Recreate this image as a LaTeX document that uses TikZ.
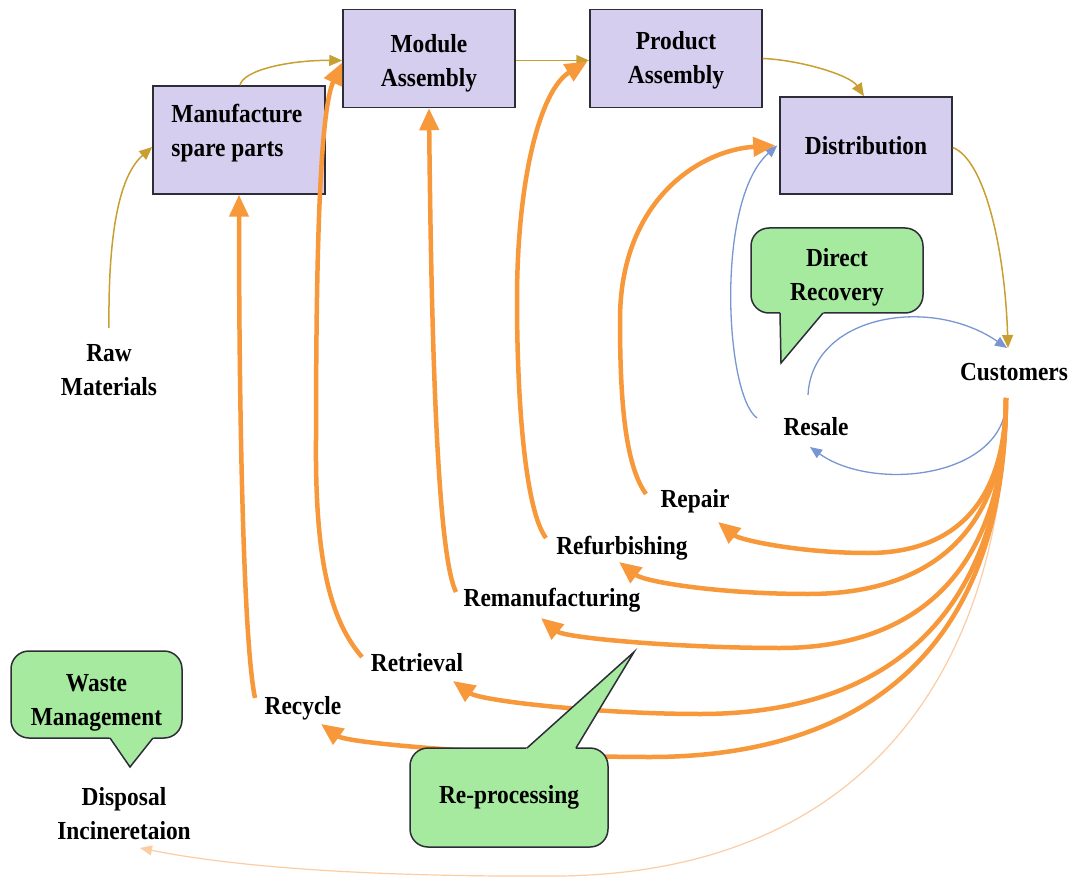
\documentclass[tikz,border=0pt]{standalone}
\usepackage{fontspec}
\setmainfont{Liberation Serif}[FakeStretch=0.9]
\usetikzlibrary{arrows.meta,calc}

\definecolor{boxfill}{RGB}{213,206,238}
\definecolor{boxline}{RGB}{45,45,55}
\definecolor{bubblefill}{RGB}{166,234,160}
\definecolor{supply}{RGB}{200,160,50}
\definecolor{flow}{RGB}{247,152,58}
\definecolor{flowlight}{RGB}{252,205,165}
\definecolor{back}{RGB}{120,150,210}

% two-line caption set a little lower than the centre of its box
\newcommand\lowcaption[2]{\raisebox{-#1}[\height][\depth]{\begin{tabular}{@{}c@{}}#2\end{tabular}}}

\begin{document}
\begin{tikzpicture}[x=1pt,y=-1pt,
  every node/.style={font=\fontsize{26}{34}\selectfont\bfseries, align=center, inner sep=0pt},
  stage/.style={draw=boxline, line width=1.5pt, fill=boxfill, minimum width=172pt, minimum height=98pt},
  bubble/.style={draw=boxline, line width=1.5pt, fill=bubblefill, rounded corners=18pt},
  pointer/.style={draw=boxline, line width=1.5pt, line join=miter},
  forward/.style={draw=supply, line width=1.5pt, -{Triangle[length=13pt,width=11pt]}},
  reuse/.style={draw=back, line width=1.3pt, -{Triangle[length=12pt,width=10pt]}},
  recover/.style={draw=flow, line width=4.5pt, -{Triangle[length=22pt,width=19pt]}},
  dispose/.style={draw=flowlight, line width=1.2pt, -{Triangle[length=12pt,width=10pt]}}
]
\fill[white] (0,0) rectangle (1079,877);
\useasboundingbox (0,0) rectangle (1079,877);

% forward supply chain stages
\node[stage, minimum height=108pt] (msp) at (239,140) {};
\node[anchor=north west, align=left] (msptext) at ($(msp.north west)+(19,19)$) {Manufacture\\spare parts};
\node[stage] (mod) at (429,58.5) {\lowcaption{4pt}{Module\\Assembly}};
\node[stage] (prod) at (676,58.5) {\lowcaption{1pt}{Product\\Assembly}};
\node[stage, minimum height=97pt] (dist) at (866,145.5) {Distribution};

% plain labels
\node (raw) at (109,370) {Raw\\Materials};
\node (cust) at (1014,372) {Customers};
\node (resale) at (816,427) {Resale};
\node (repair) at (695,501) {Repair};
\node (refurb) at (622,548) {Refurbishing};
\node (reman) at (552,600) {Remanufacturing};
\node (retr) at (417,663) {Retrieval};
\node (recy) at (303,708) {Recycle};
\node (disp) at (124,814) {Disposal\\Incineretaion};

% forward flow
\draw[forward] ($(raw)+(0,-42)$) .. controls (108,230) and (120,175) .. ($(msp.west)+(0,7)$);
\draw[forward] ($(msp.north)+(1,0)$) .. controls (243,70) and (290,60) .. ($(mod.west)+(0,2)$);
\draw[forward] ($(mod.east)+(0,2)$) -- ($(prod.west)+(0,2)$);
\draw[forward] (prod.east) .. controls (800,60) and (850,75) .. ($(dist.north)+(-2,0)$);
\draw[forward] ($(dist.east)+(0,2)$) .. controls (985,160) and (1005,250) .. ($(cust)+(-6,-24)$);

% direct recovery loop
\draw[reuse] ($(resale)+(-59,-9)$) .. controls (725,395) and (715,200) .. ($(dist.west)+(-2,0)$);
\draw[reuse] ($(resale)+(-8,-32)$) .. controls (812,315) and (930,295) .. ($(cust)+(-7,-24)$);
\draw[reuse] ($(cust)+(-9,41)$) .. controls (990,480) and (870,490) .. ($(resale)+(-6,20)$);

% returns from customers
\coordinate (fan) at ($(cust)+(-8,26)$);
\draw[dispose] (fan) .. controls (1005,650) and (880,872) .. (560,876) .. controls (400,877) and (250,870) .. ($(disp)+(16,34)$);
\draw[recover] (fan) .. controls (1005,530) and (926,553) .. (868,553) .. controls (800,553) and (740,540) .. ($(repair)+(23,21)$);
\draw[recover] (fan) .. controls (1005,565) and (891,594) .. (808,594) .. controls (720,594) and (645,582) .. ($(refurb)+(-3,14)$);
\draw[recover] (fan) .. controls (1005,610) and (875,648) .. (780,648) .. controls (680,648) and (565,638) .. ($(reman)+(-11,18)$);
\draw[recover] (fan) .. controls (1005,667) and (828,714) .. (700,714) .. controls (600,714) and (481,701) .. ($(retr)+(36,18)$);
\draw[recover] (fan) .. controls (1005,703) and (800,757) .. (650,757) .. controls (520,757) and (349,744) .. ($(recy)+(18,16)$);

% re-processing back into the chain
\draw[recover] ($(recy)+(-48,-10)$) .. controls (243,640) and (239,400) .. (msp.south);
\draw[recover] ($(retr)+(-55,-6)$) .. controls (330,620) and (315,560) .. (316,440) .. controls (316,250) and (320,110) .. ($(mod.west)+(0,4)$);
\draw[recover] ($(reman)+(-96,-8)$) .. controls (440,560) and (432,400) .. (mod.south);
\draw[recover] ($(refurb)+(-76,-10)$) .. controls (525,510) and (517,400) .. (517,300) .. controls (517,180) and (540,90) .. ($(prod.west)+(-2,3)$);
\draw[recover] ($(repair)+(-49,-7)$) .. controls (625,465) and (620,400) .. (620,320) .. controls (620,200) and (700,150) .. ($(dist.west)+(-4,0)$);

% callouts
\node[bubble, minimum width=172pt, minimum height=85pt] (dr) at (837,270.5) {\lowcaption{6pt}{Direct\\Recovery}};
\fill[bubblefill] (780,311) -- (781,363) -- (824.7,311) -- cycle;
\draw[pointer] (780,313) -- (781,363) -- (823,313);

\node[bubble, minimum width=171pt, minimum height=87pt] (wm) at (96.5,694.5) {\lowcaption{7pt}{Waste\\Management}};
\fill[bubblefill] (108.6,736) -- (130,767) -- (154.6,736) -- cycle;
\draw[pointer] (110,738) -- (130,767) -- (153,738);

\node[bubble, minimum width=198pt, minimum height=99pt] (rp) at (509,797.5) {Re-processing};
\fill[bubblefill] (524.8,750) -- (634,652) -- (574.8,750) -- cycle;
\draw[pointer] (527,748) -- (634,652) -- (576,748);
\end{tikzpicture}
\end{document}
